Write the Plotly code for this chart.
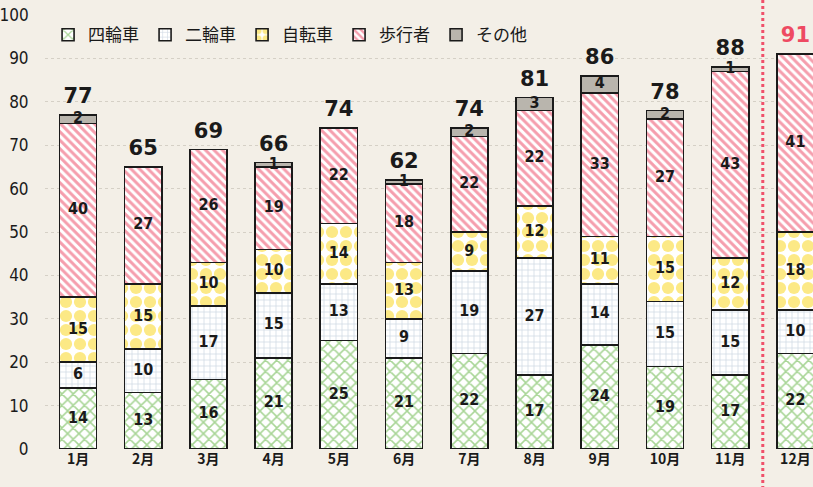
import plotly.graph_objects as go

months = ["1月", "2月", "3月", "4月", "5月", "6月", "7月", "8月", "9月", "10月", "11月", "12月"]
series_names = ["四輪車", "二輪車", "自転車", "歩行者", "その他"]
car = [14, 13, 16, 21, 25, 21, 22, 17, 24, 19, 17, 22]
moto = [6, 10, 17, 15, 13, 9, 19, 27, 14, 15, 15, 10]
bike = [15, 15, 10, 10, 14, 13, 9, 12, 11, 15, 12, 18]
walker = [40, 27, 26, 19, 22, 18, 22, 22, 33, 27, 43, 41]
other = [2, 0, 0, 1, 0, 1, 2, 3, 4, 2, 1, 0]
y_ticks = [0, 10, 20, 30, 40, 50, 60, 70, 80, 90, 100]

series = [car, moto, bike, walker, other]
styles = [
    dict(bg="#ffffff", fg="#52ab2e", shape="x", size=8, solidity=0.35),
    dict(bg="#ffffff", fg="#a5b6ca", shape="+", size=6, solidity=0.25),
    dict(bg="#ffffff", fg="#f9d40e", shape=".", size=14, solidity=0.6),
    dict(bg="#ffffff", fg="#ec3d5c", shape="\\", size=6, solidity=0.5),
    dict(bg="#b9b5ad", fg="#b9b5ad", shape="", size=8, solidity=0.2),
]

fig = go.Figure()
xs = list(range(len(months)))
for name, vals, st in zip(series_names, series, styles):
    fig.add_trace(go.Bar(
        x=xs, y=vals, name=name, width=0.57,
        marker=dict(color=st["bg"], line=dict(color="#1a1a1a", width=1.6),
                    pattern=dict(shape=st["shape"], fgcolor=st["fg"], bgcolor=st["bg"],
                                 size=st["size"], solidity=st["solidity"], fillmode="overlay")),
        hoverinfo="skip",
    ))

# segment labels
lx, ly, lt = [], [], []
base = [0] * len(months)
for vals in series:
    for i, v in enumerate(vals):
        if v > 0:
            lx.append(i)
            ly.append(base[i] + v / 2)
            lt.append(str(v))
        base[i] += v
fig.add_trace(go.Scatter(x=lx, y=ly, text=lt, mode="text", showlegend=False,
                         textfont=dict(family="Liberation Sans Narrow, DejaVu Sans Condensed", size=16,
                                       color="#1a1a1a", weight="bold"),
                         hoverinfo="skip"))

totals = base
tcolors = ["#1a1a1a"] * (len(months) - 1) + ["#ee4a62"]
fig.add_trace(go.Scatter(x=xs, y=[t + 1.5 for t in totals], text=[str(t) for t in totals],
                         mode="text", textposition="top center", showlegend=False,
                         textfont=dict(family="DejaVu Sans, Liberation Sans", size=21, color=tcolors,
                                       weight="bold"),
                         hoverinfo="skip"))

fig.add_shape(type="line", x0=10.5, x1=10.5, xref="x", yref="paper", y0=-0.12, y1=1.05,
              line=dict(color="#f0506a", width=3, dash="dot"))

fig.update_layout(
    width=813, height=487,
    barmode="stack",
    paper_bgcolor="#f3efe7", plot_bgcolor="#f3efe7",
    margin=dict(l=45, r=0, t=15, b=38),
    font=dict(family="Liberation Sans, DejaVu Sans", color="#1a1a1a"),
    legend=dict(orientation="h", x=0.004, y=0.995, xanchor="left", yanchor="top",
                traceorder="normal", entrywidth=52, entrywidthmode="pixels",
                font=dict(family="Noto Sans CJK JP", size=17), bgcolor="rgba(0,0,0,0)",
                itemwidth=30, tracegroupgap=0),
    xaxis=dict(range=[-0.506, 11.27], tickmode="array", tickvals=xs, ticktext=months,
               tickfont=dict(family="Noto Sans CJK JP", size=14, weight="bold"), showgrid=False,
               zeroline=False, ticks="", showline=False, automargin=False),
    yaxis=dict(range=[0, 100], tickmode="array", tickvals=y_ticks, showgrid=True,
               gridcolor="#d5d0c6", griddash="dot", gridwidth=1, zeroline=False, automargin=False,
               ticks="outside", ticklen=12, tickcolor="rgba(0,0,0,0)",
               tickfont=dict(family="Liberation Sans Narrow, DejaVu Sans Condensed", size=17)),
)

fig.write_html("out.html", config={"displayModeBar": False},
               post_script="document.body.style.margin='0';document.body.style.overflow='hidden';"
                           "document.body.style.background='#f3efe7';")
